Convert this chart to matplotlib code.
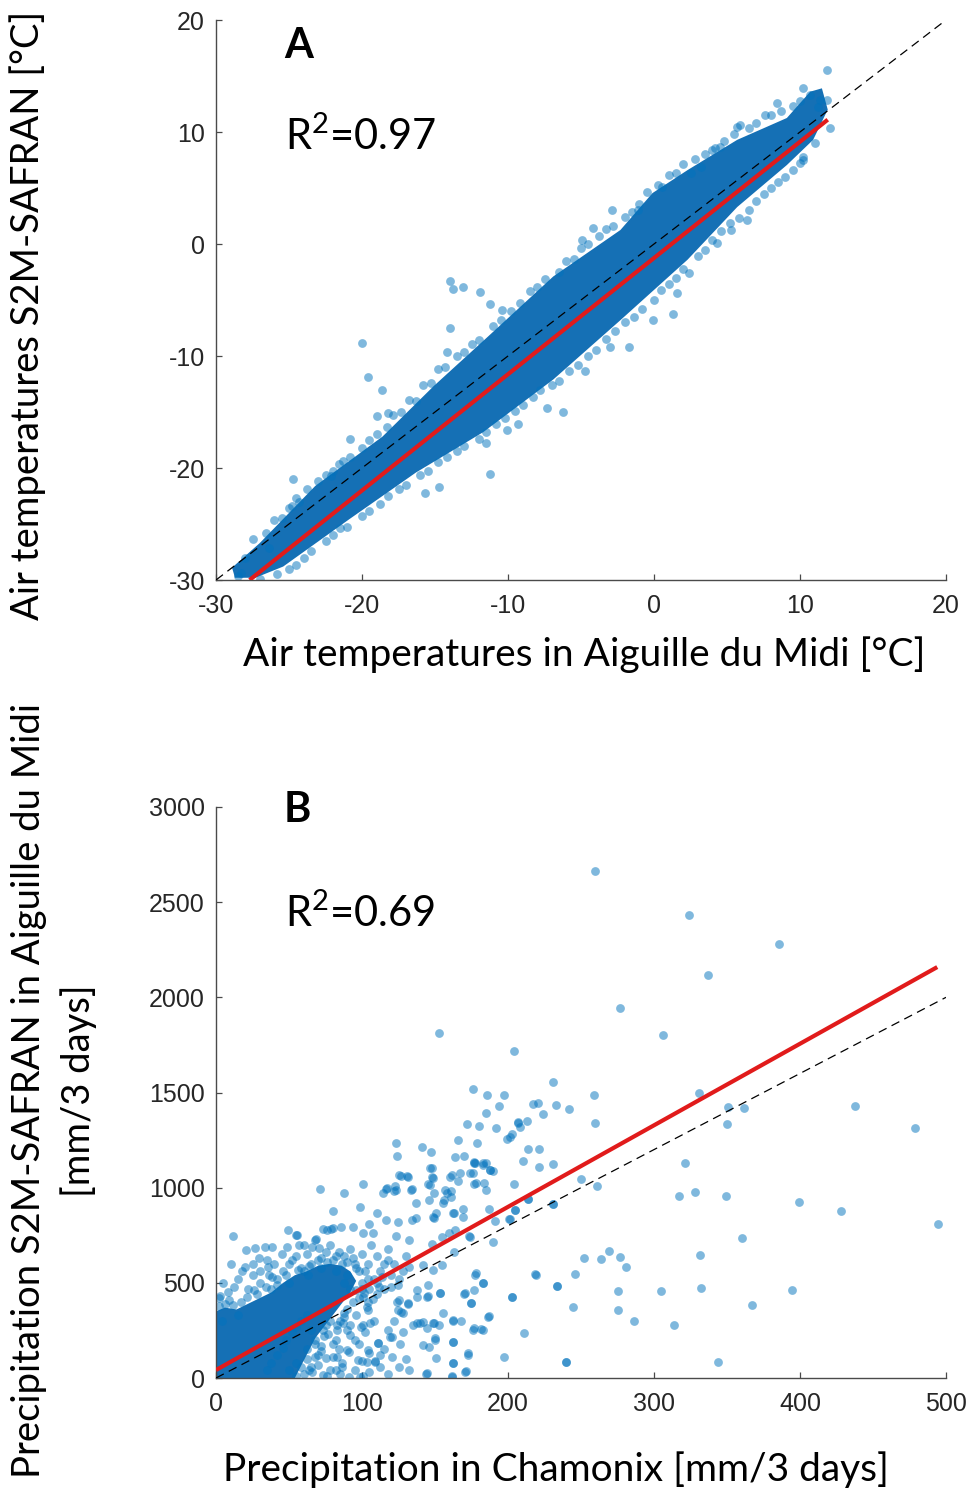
#!/usr/bin/env python3
# Scatter comparison of S2M-SAFRAN reanalysis vs station data (A: temperature, B: precipitation)
import numpy as np
import matplotlib
matplotlib.use('Agg')
import matplotlib.pyplot as plt

# ---------------- panel A : air temperature [degC] ----------------
# outline of the part of the cloud where points overlap into a solid band
a_core = [(-28.9, -28.9), (-27.0, -26.7), (-23.2, -21.6), (-18.6, -17.2), (-15.1, -12.7),
          (-11.4, -8.3), (-6.9, -2.9), (-2.3, 1.25), (-0.1, 4.55), (2.3, 6.6), (5.7, 9.3),
          (9.1, 11.25), (10.7, 13.6), (11.5, 13.9), (11.9, 12.0), (10.9, 9.3), (9.1, 7.05),
          (5.7, 3.3), (2.3, -1.4), (-2.3, -6.8), (-6.9, -12.1), (-11.7, -16.8), (-16.3, -20.4),
          (-20.9, -24.6), (-25.4, -28.8), (-27.3, -29.8), (-28.7, -29.8)]
# individual points visible at the edge of the cloud and outliers
a_points = [(-20.0, -8.8), (-19.6, -11.9), (-18.6, -13.0), (-24.7, -21.0), (-24.5, -22.7),
            (-24.8, -23.4), (-14.0, -3.3), (-13.8, -4.0), (-13.1, -3.8), (-11.9, -4.3),
            (-11.2, -5.4), (-14.0, -7.5), (-14.2, -9.6), (-19.0, -15.4), (-18.2, -15.1),
            (-20.8, -17.4), (-21.6, -19.6), (-22.1, -20.7), (-11.2, -20.5), (-15.7, -22.2),
            (-14.7, -21.7), (-11.5, -17.8), (-10.1, -16.6), (-9.3, -16.1), (-7.3, -14.6),
            (-6.2, -15.0), (-4.7, -11.3), (-24.5, -28.7), (-28.3, -29.4), (-26.4, -27.1),
            (-28.5, -29.6), (-10.4, -5.9), (-2.9, 3.0), (-1.1, 3.0), (-4.2, 1.4), (-4.9, 0.4),
            (4.0, 8.4), (5.9, 10.6), (6.4, 2.1), (5.3, 1.25), (4.3, 0.1), (2.4, -2.6),
            (1.6, -4.4), (1.3, -6.25), (-0.1, -6.8), (-1.7, -9.2), (-3.0, -9.2), (11.0, 9.0),
            (10.2, 7.8), (10.0, 7.2), (11.85, 15.5), (10.2, 13.9), (10.7, 13.3), (11.4, 12.9),
            (11.85, 12.9), (11.2, 12.2), (12.05, 10.35), (8.4, 12.6), (7.6, 11.5), (5.7, 10.45),
            (4.5, 8.7), (3.2, 6.9), (2.5, 6.3), (0.55, 5.1),
            # upper fringe
            (-27.5, -26.3), (-26.0, -24.6), (-25.0, -23.6), (-23.8, -21.9), (-22.5, -20.6),
            (-21.3, -19.4), (-20.0, -18.2), (-19.0, -17.0), (-17.9, -15.3), (-16.8, -13.9),
            (-15.8, -12.6), (-14.8, -11.2), (-13.5, -10.0), (-12.5, -8.9), (-11.0, -7.3),
            (-9.8, -6.0), (-8.5, -4.2), (-7.5, -3.1), (-6.0, -1.5), (-5.0, -0.4), (-3.8, 0.7),
            (-2.8, 1.6), (-1.5, 2.9), (-0.5, 4.6), (1.0, 6.2), (2.0, 7.1), (3.5, 8.0),
            (4.8, 9.2), (6.5, 10.4), (8.0, 11.5), (9.5, 12.3),
            (-28.0, -28.0), (-26.6, -25.8), (-25.5, -24.5), (-24.3, -23.0), (-23.0, -21.2),
            (-22.0, -20.3), (-20.8, -19.0), (-19.5, -17.5), (-18.3, -16.3), (-17.3, -15.0),
            (-16.3, -14.0), (-15.3, -12.4), (-14.3, -11.0), (-13.0, -9.6), (-12.0, -8.6),
            (-10.5, -6.8), (-9.2, -5.3), (-8.0, -3.8), (-6.5, -2.5), (-5.5, -1.3), (-4.5, 0.0),
            (-3.3, 1.3), (-2.0, 2.4), (-1.0, 3.6), (0.3, 5.3), (1.5, 6.3), (2.8, 7.6),
            (4.2, 8.6), (5.5, 9.8), (7.0, 10.8), (8.7, 11.9), (10.0, 12.8),
            # lower fringe
            (-25.8, -29.5), (-24.0, -28.0), (-22.5, -26.5), (-21.5, -25.4), (-20.0, -24.3),
            (-18.8, -23.2), (-17.5, -21.9), (-16.0, -20.6), (-14.8, -19.5), (-13.5, -18.5),
            (-12.0, -17.4), (-10.8, -16.1), (-9.5, -14.9), (-8.3, -13.7), (-7.0, -12.6),
            (-5.8, -11.3), (-4.5, -10.0), (-3.3, -8.5), (-2.0, -7.0), (-0.8, -5.8), (0.5, -4.1),
            (1.5, -3.0), (3.0, -1.1), (4.0, 0.4), (5.2, 1.9), (6.5, 3.0), (7.5, 4.5),
            (8.5, 5.5), (9.5, 6.6),
            (-27.0, -29.9), (-25.0, -29.0), (-23.5, -27.4), (-22.0, -26.0), (-21.0, -25.3),
            (-19.5, -23.8), (-18.2, -22.5), (-17.0, -21.5), (-15.5, -20.3), (-14.2, -19.0),
            (-13.0, -18.0), (-11.5, -16.8), (-10.2, -15.5), (-9.0, -14.4), (-7.8, -13.0),
            (-6.5, -12.2), (-5.2, -10.8), (-4.0, -9.5), (-2.7, -7.8), (-1.4, -6.5), (0.0, -5.0),
            (1.0, -3.6), (2.0, -2.2), (3.5, -0.5), (4.6, 1.2), (5.8, 2.3), (7.0, 3.8),
            (8.0, 5.0), (9.0, 6.0), (10.2, 7.5)]
a_fit_x = [-27.7, 11.9]
a_fit_y = [-30.0, 11.1]
a_ref = [-30, 20]
a_ticks = [-30, -20, -10, 0, 10, 20]

# ---------------- panel B : precipitation [mm/3 days] ----------------
b_core = [(0, 0), (0, 350), (6, 370), (14, 360), (22, 390), (30, 420), (38, 450), (46, 500),
          (54, 540), (62, 560), (70, 590), (78, 600), (86, 590), (92, 560), (96, 510),
          (92, 450), (86, 390), (80, 330), (74, 270), (68, 210), (64, 150), (60, 90),
          (56, 30), (54, 0)]
b_points = [(259.6, 2664), (324, 2433), (385.6, 2280), (337, 2117), (277, 1944), (306, 1802),
            (153, 1812), (204, 1718), (231, 1555), (176, 1518), (185.6, 1487), (197, 1487),
            (259, 1487), (331, 1497), (194, 1429), (185, 1392), (217, 1440), (220.5, 1445),
            (233, 1434), (242, 1413), (224, 1387), (259.6, 1340), (351, 1424), (361.6, 1418),
            (350, 1335), (437.7, 1429), (478.8, 1313), (207, 1345), (213, 1350), (208, 1319),
            (203, 1282), (199, 1256), (172, 1335), (180, 1324), (192, 1313), (166, 1250),
            (179, 1235), (141, 1214), (147, 1187), (123, 1235), (124, 1166), (164, 1161),
            (148, 1103), (148, 1056), (160, 1056), (166, 1035), (177, 1130), (185, 1130),
            (176, 1077), (178, 1025), (188, 1093), (214, 1203), (221, 1203), (210, 1140),
            (221, 1109), (231, 1124), (321, 1130), (185, 988), (131, 1061), (127, 1061),
            (122.6, 1009), (117, 998), (134, 993), (146.6, 1014), (157, 988), (161, 980),
            (204, 1019), (250, 1046), (261, 1009), (231, 914), (205, 883), (201, 835), (214, 940),
            (317, 956), (328, 977), (349, 956), (399, 925), (428, 877), (494.5, 809), (360, 735),
            (331.5, 646), (269, 667), (264, 625), (252, 630), (277, 636), (281, 583), (219, 541),
            (246, 546), (233.6, 483), (203, 426), (275, 457), (305, 457), (332, 473),
            (394.5, 462), (244.5, 373), (275, 357), (367, 384), (286, 300), (314, 278), (240, 84),
            (344, 84), (201.4, 1268), (206.6, 1341), (170, 1166), (177, 1133), (182.6, 1119),
            (189.5, 1089), (125, 1067), (131.7, 1054), (116.4, 993), (133.6, 988), (122, 985),
            (145.4, 1019), (149.5, 970), (176.7, 1019), (183.3, 1026), (100.5, 1019), (87.9, 970),
            (71.5, 993), (80.4, 879), (98.6, 900), (110, 869), (116.4, 830), (124.4, 821),
            (137, 918), (137, 839), (146, 935), (150.7, 865), (149.5, 839), (156.4, 935),
            (161, 953), (163, 865), (169, 886), (186.8, 890), (191, 825), (201.4, 834),
            (213.5, 939), (230.6, 914), (49, 778), (54.8, 750), (68.5, 729), (73.5, 781),
            (78.8, 781), (85.6, 795), (93.6, 795), (105, 809), (107.3, 760), (123.3, 746),
            (132, 725), (148, 704), (154.8, 739), (159.8, 760), (164, 778), (173.5, 746),
            (11.9, 746), (20.5, 672), (27, 681), (33.8, 690), (38.6, 687), (20, 585),
            (29.7, 629), (35.4, 585), (38.4, 532), (48.4, 690), (57, 699), (70.8, 681),
            (190, 716), (178, 550), (182.6, 497), (177, 462), (170, 441), (174.7, 392),
            (203, 427), (218.7, 545), (233.3, 483), (211, 235), (197.5, 109), (239.7, 82),
            (186.8, 326), (177, 261), (181.5, 256), (162, 301), (167.8, 301), (153, 278),
            (149.5, 291), (144.3, 261), (140, 291), (134.7, 278), (127.9, 243), (120.5, 217),
            (126.7, 348), (131.3, 389), (125, 410), (137.7, 427), (145, 431), (153.6, 445),
            (145.4, 489), (162.6, 191), (172.4, 130), (150.2, 208), (141.6, 173), (146, 165),
            (150.7, 103), (162, 81), (161.6, 10), (171.2, 38), (143.8, 21), (120.5, 109),
            (110.7, 186), (100, 91), (103.9, 147), (109, 91), (91.3, 138), (100.5, 10),
            (86.3, 77), (82.2, 42), (91.3, 5), (75.3, 103), (73, 16), (99.3, 270), (103.9, 357),
            (101.6, 445), (107.3, 413), (111.9, 480), (124.4, 489), (132.4, 585), (141.6, 594),
            (148.4, 567), (154.8, 594), (162.8, 664), (55.3, 751), (67.8, 725), (75.8, 778),
            (80.4, 786), (100.9, 760), (114.6, 970), (123.3, 988), (146.6, 1102), (148.4, 1049),
            (161.4, 1067), (167, 1075), (158, 970), (174, 1075), (177.4, 1128), (183, 1128),
            (187.7, 1093), (169.4, 848), (162.5, 865), (155.7, 918), (148.8, 848), (134, 830),
            (174, 742), (204.8, 883), (177.4, 541), (183, 497), (170.5, 445), (175, 392),
            (176, 252), (183, 252), (186.5, 322), (155.7, 340), (162.5, 305), (150, 200),
            (162.5, 191), (172.8, 121), (162.5, 77), (161.4, 3), (144.3, 25), (170.5, 33),
            (137.5, 462), (144.3, 427), (153.4, 445), (137.5, 287), (142, 296), (148.8, 287),
            (131.7, 392), (128.3, 340), (123.7, 401), (124.9, 357), (119.2, 217), (111.2, 182),
            (103.2, 375), (100.9, 427), (100.9, 278), (105.5, 287), (91.8, 226), (89.5, 147),
            (97.5, 95), (103.2, 86), (108.9, 86), (82.7, 112), (73.5, 252), (82.7, 252),
            (87.2, 287), (78, 42), (98.6, 5),
            # around the dense part near the origin
            (2, 380), (6, 389), (11.9, 384), (21, 427), (4, 300), (15, 330), (28, 440), (38, 470),
            (50, 500), (60, 560), (65, 600), (80, 620), (88, 640), (95, 600), (102, 560),
            (108, 520), (105, 470), (98, 420), (90, 360), (85, 300), (75, 280), (68, 200),
            (62, 150), (55, 80), (50, 40), (60, 20), (65, 60), (70, 120), (80, 180), (90, 250),
            (40, 600), (52, 620), (62, 650), (75, 660), (15, 520), (25, 540), (8, 450), (2, 420),
            (42, 520), (46, 560), (50, 600), (55, 640), (58, 580), (63, 540), (66, 690),
            (70, 620), (72, 580), (76, 610), (78, 700), (82, 560), (84, 660), (86, 600),
            (90, 540), (92, 680), (94, 630), (96, 580), (100, 650), (104, 600), (106, 700),
            (110, 640), (112, 560), (115, 600), (118, 680), (120, 540), (88, 500), (92, 470),
            (100, 500), (96, 460), (104, 520), (110, 500), (115, 470), (120, 480), (125, 520),
            (128, 560), (130, 640), (118, 620), (122, 600), (60, 700), (45, 650), (35, 620),
            (30, 560), (25, 600), (18, 560), (10, 600), (5, 500), (12, 480), (22, 470),
            (30, 500), (36, 540),
            (35, 40), (38, 80), (42, 120), (46, 160), (48, 200), (52, 240), (55, 270), (58, 300),
            (62, 330), (65, 250), (68, 180), (72, 140), (74, 220), (78, 300), (82, 200),
            (84, 150), (86, 60), (88, 320), (92, 280), (95, 200), (98, 180), (102, 240),
            (105, 130), (108, 300), (112, 60), (115, 150), (118, 20), (122, 300), (126, 180),
            (130, 100), (132, 40), (55, 10), (62, 100), (66, 30), (70, 70), (76, 10), (80, 110),
            (85, 20), (95, 40), (105, 30), (112, 120), (118, 250), (125, 60),
            (3, 430), (9, 410), (17, 400), (26, 460), (34, 480), (42, 490), (48, 540),
            (56, 570), (64, 590), (72, 630), (82, 640), (90, 610), (98, 560), (100, 470),
            (94, 400), (88, 340), (83, 280), (77, 230), (72, 170), (68, 110), (64, 40),
            (58, 60), (96, 330), (104, 400), (110, 440), (114, 530)]
b_fit_x = [0, 494]
b_fit_y = [42, 2159]
b_ref_x = [0, 500]
b_ref_y = [0, 2000]
b_xticks = [0, 100, 200, 300, 400, 500]
b_yticks = [0, 500, 1000, 1500, 2000, 2500, 3000]

# ---------------- style ----------------
blue = '#0072BD'
dense = '#1570b5'
red = '#e11b1b'
label_font = 'Lato'
tick_color = '#262626'
plt.rcParams['font.family'] = ['Liberation Sans', 'DejaVu Sans']
plt.rcParams['axes.unicode_minus'] = False
plt.rcParams['mathtext.fontset'] = 'custom'
plt.rcParams['mathtext.rm'] = label_font


def style_axes(ax):
    ax.spines['top'].set_visible(False)
    ax.spines['right'].set_visible(False)
    for s in ('left', 'bottom'):
        ax.spines[s].set_color('#4a4a4a')
        ax.spines[s].set_linewidth(1.0)
    ax.tick_params(direction='in', length=4, width=0.9, color='#4a4a4a',
                   labelsize=18, labelcolor=tick_color)
    ax.tick_params(axis='x', pad=10)
    ax.tick_params(axis='y', pad=8)


def panel(ax, core, points, fit_x, fit_y, ref_x, ref_y):
    cx, cy = zip(*core)
    ax.fill(cx, cy, color=dense, lw=0, zorder=1)
    px, py = zip(*points)
    ax.scatter(px, py, s=40, color=blue, alpha=0.5, lw=0, zorder=2)
    ax.plot(ref_x, ref_y, color='black', lw=0.9, ls=(0, (7, 4.5)), zorder=3)
    ax.plot(fit_x, fit_y, color=red, lw=3.0, solid_capstyle='butt', zorder=4)


fig = plt.figure(figsize=(9.7, 14.9), dpi=100)

# panel A
axA = fig.add_axes([216/970, 1 - 580/1490, 730/970, 560/1490])
panel(axA, a_core, a_points, a_fit_x, a_fit_y, a_ref, a_ref)
axA.set_xlim(-30, 20)
axA.set_ylim(-30, 20)
axA.set_xticks(a_ticks)
axA.set_yticks(a_ticks)
style_axes(axA)
axA.set_xlabel('Air temperatures in Aiguille du Midi [°C]', family=label_font, fontsize=28)
axA.xaxis.set_label_coords(0.505, -0.134)
axA.xaxis.label.set_va('center')
axA.set_ylabel('Air temperatures S2M-SAFRAN [°C]', family=label_font, fontsize=27.5)
axA.yaxis.set_label_coords(-0.2575, 0.473)
axA.yaxis.label.set_va('center')
axA.text(0.093, 0.932, 'A', transform=axA.transAxes, family=label_font, fontsize=30,
         fontweight='bold')
axA.text(0.094, 0.768, r'R$^{2}$=0.97', transform=axA.transAxes, family=label_font,
         fontsize=30)

# panel B
axB = fig.add_axes([216/970, 1 - 1378/1490, 730/970, 571/1490])
panel(axB, b_core, b_points, b_fit_x, b_fit_y, b_ref_x, b_ref_y)
axB.set_xlim(0, 500)
axB.set_ylim(0, 3000)
axB.set_xticks(b_xticks)
axB.set_yticks(b_yticks)
style_axes(axB)
axB.set_xlabel('Precipitation in Chamonix [mm/3 days]', family=label_font, fontsize=28)
axB.xaxis.set_label_coords(0.466, -0.161)
axB.xaxis.label.set_va('center')
axB.set_ylabel('Precipitation S2M-SAFRAN in Aiguille du Midi\n[mm/3 days]',
               family=label_font, fontsize=27.5, linespacing=1.45)
axB.yaxis.set_label_coords(-0.222, 0.504)
axB.yaxis.label.set_va('center')
axB.text(0.093, 0.974, 'B', transform=axB.transAxes, family=label_font, fontsize=30,
         fontweight='bold')
axB.text(0.094, 0.790, r'R$^{2}$=0.69', transform=axB.transAxes, family=label_font,
         fontsize=30)

fig.savefig('out.png', dpi=100)
plt.close(fig)
